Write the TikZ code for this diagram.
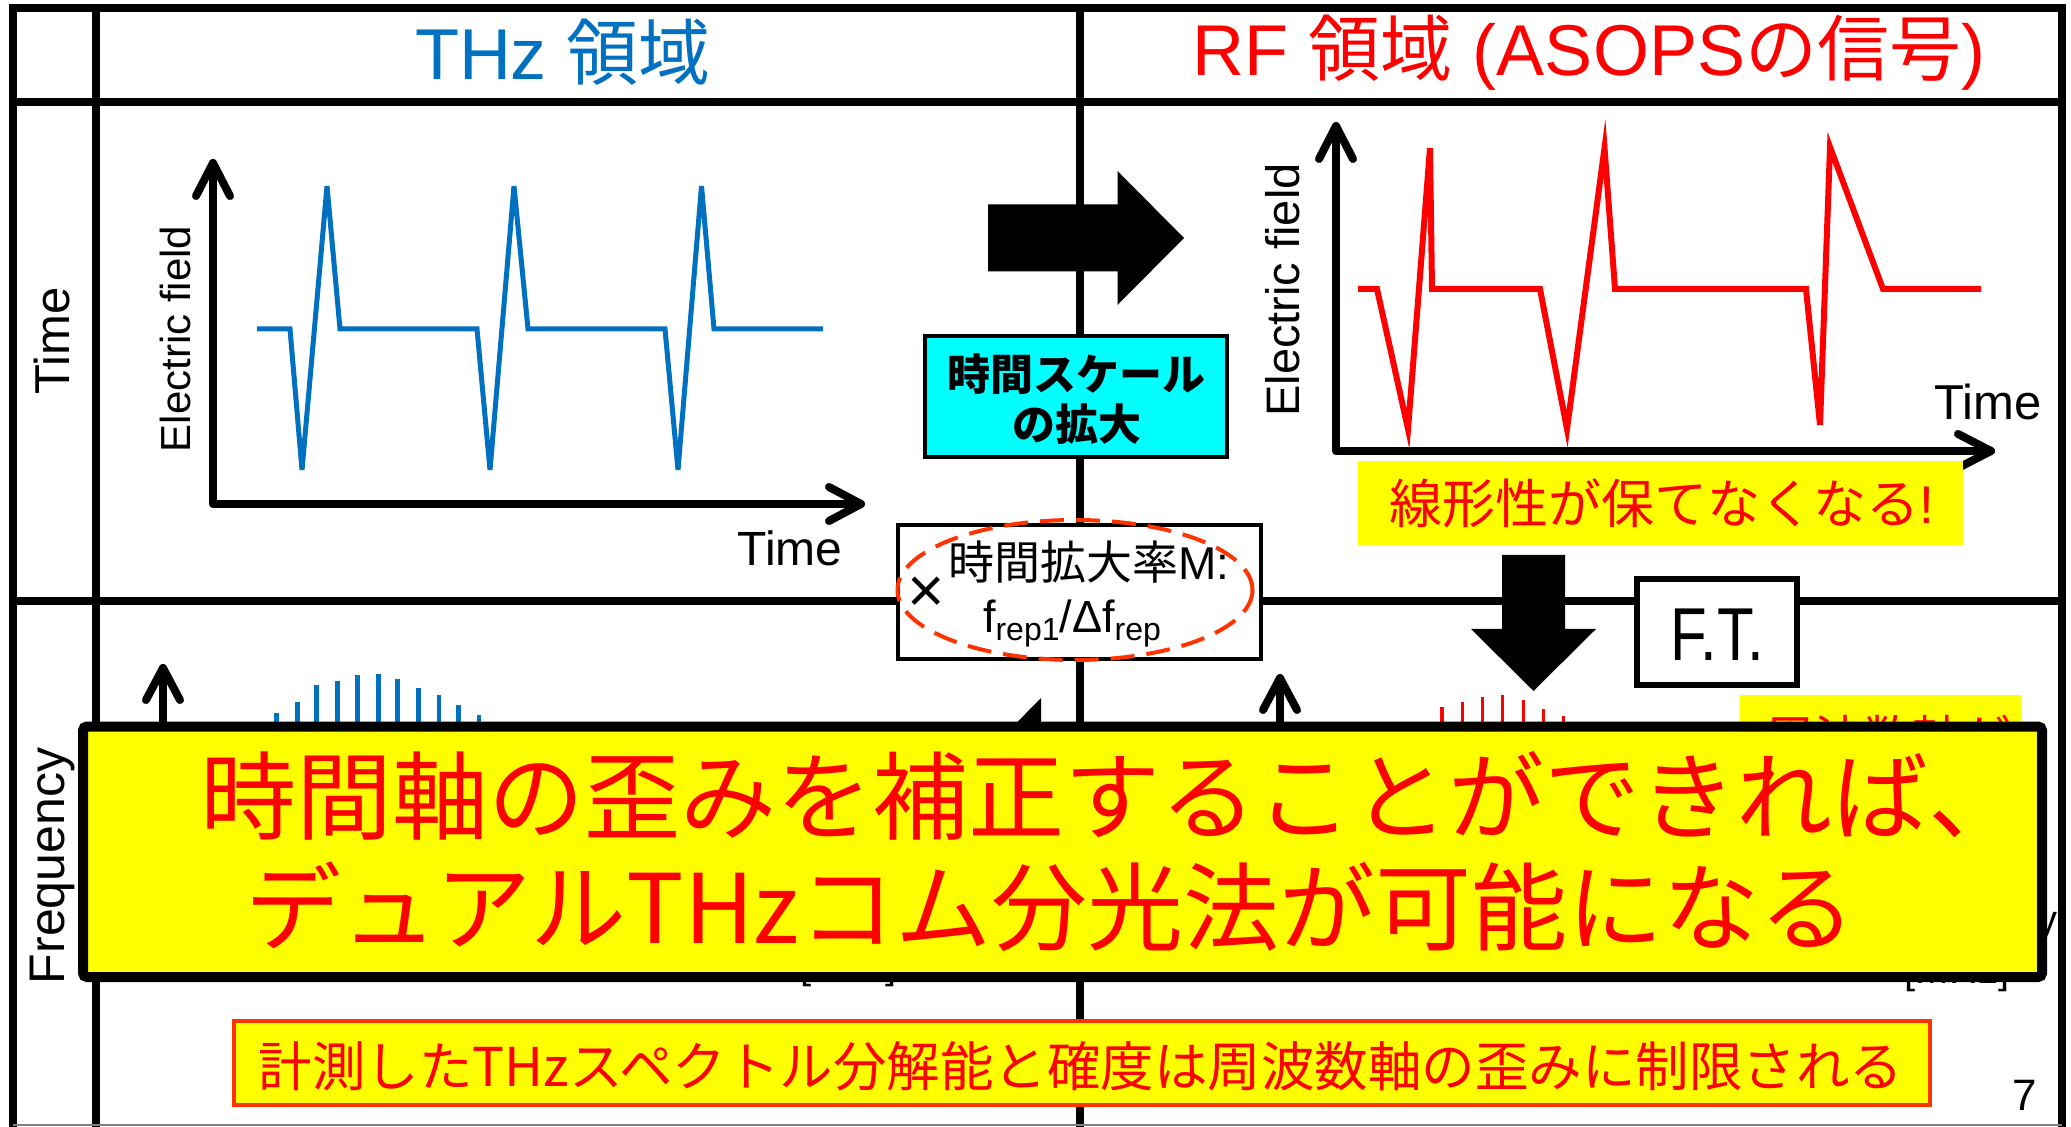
\documentclass[tikz,border=0pt]{standalone}
\usepackage{fontspec}
\setmainfont{Liberation Sans}
\newfontfamily\jp{Noto Sans CJK JP}
\newcommand{\fsz}[1]{\fontsize{#1}{#1}\selectfont}
\definecolor{thzblue}{HTML}{0070C0}
\definecolor{rfred}{HTML}{FF0000}
\definecolor{dashred}{HTML}{FF3300}
\definecolor{ylw}{HTML}{FFFF00}
\definecolor{cyn}{HTML}{00FFFF}
\tikzset{
  grid/.style={line width=3.75pt, line cap=rect},
  axisline/.style={line width=4pt, line cap=round, line join=round},
  blueline/.style={thzblue, line width=2.5pt},
  redline/.style={rfred, line width=3pt},
  frame/.style={draw, line width=2pt, inner sep=0pt},
  txt/.style={inner sep=0pt},
}
\begin{document}
\begin{tikzpicture}[x=0.5pt,y=-0.5pt]
\useasboundingbox (0,0) rectangle (2071,1127);
\fill[white] (0,0) rectangle (2071,1127);

% labels that sit behind the banner
\node[txt, font={\fsz{20pt}}, anchor=base] (thzunit) at (848.5,978) {[THz]};
\node[txt, font={\fsz{20pt}}, anchor=base] (mhzunit) at (1957,983) {[MHz]};
\node[txt, font={\fsz{20pt}}, anchor=base east] (rfreq) at (2058,933) {Frequency};

% table grid
\draw[grid] (13,8) -- (2062,8);
\draw[grid] (13,8) -- (13,1140);
\draw[grid] (2062,8) -- (2062,1140);
\draw[grid] (96,8) -- (96,1140);
\draw[grid] (1080,8) -- (1080,1140);
\draw[grid] (13,102) -- (2062,102);
\draw[grid] (13,601) -- (2062,601);
\draw[gray, line width=0.6pt] (13,1125) -- (2062,1125);

% headers
\node[txt, text=thzblue, font={\fsz{36pt}}] (hthz) at (563,52) {THz {\jp 領域}};
\node[txt, text=rfred, font={\fsz{36pt}}] (hrf) at (1589,53) {RF {\jp 領域} (ASOPS{\jp の信号})};

% row labels
\node[txt, rotate=90, font={\fsz{24.5pt}}] (ltime) at (52,341) {Time};
\node[txt, rotate=90, font={\fsz{25pt}}] (lfreq) at (52,866) {Frequency};

% left time graph
\draw[axisline] (213,163) -- (213,504) -- (861,504);
\draw[axisline] (196,196) -- (213,163) -- (230,196);
\draw[axisline] (829,487) -- (861,504) -- (829,521);
\node[txt, rotate=90, font={\fsz{21pt}}] (lef) at (175,339) {Electric field};
\node[txt, font={\fsz{24pt}}] (ltx) at (790,548) {Time};
\draw[blueline] (257,329) -- (290,329) -- (302,470) -- (327,186) -- (340,329) -- (477,329) -- (490,470) -- (514,186) -- (528,329) -- (665,329) -- (678,470) -- (701.5,186) -- (714,329) -- (823,329);

% right time graph
\draw[axisline] (1336,126) -- (1336,451) -- (1991,451);
\draw[axisline] (1319,159) -- (1336,126) -- (1353,159);
\draw[axisline] (1958,434) -- (1991,451) -- (1958,468);
\node[txt, rotate=90, font={\fsz{23.5pt}}] (ref) at (1283,290) {Electric field};
\node[txt, font={\fsz{24.5pt}}] (rtx) at (1988,402) {Time};
\draw[redline] (1358,289) -- (1377,289) -- (1408,429) -- (1430,148) -- (1432,289) -- (1540,289) -- (1567,429) -- (1604.5,148) -- (1615,289) -- (1806,289) -- (1820,425) -- (1830,147) -- (1883,289) -- (1981,289);

% yellow note
\node[txt, fill=ylw, minimum width=302.5pt, minimum height=42pt] (lin) at (1660.5,503) {};
\node[txt, text=rfred, font={\fsz{26.5pt}}] (lintxt) at (1662,503) {{\jp 線形性が保てなくなる}!};

% big right arrow
\fill (988,204.5) -- (1117.5,204.5) -- (1117.5,171) -- (1184,238) -- (1117.5,305) -- (1117.5,271.5) -- (988,271.5) -- cycle;

% time-scale box
\node[frame, fill=cyn, minimum width=151pt, minimum height=60.5pt] (tsbox) at (1076,396.5) {};
\node[txt, font={\jp\bfseries\fsz{21.5pt}}] (sc1) at (1076.5,374.5) {時間スケール};
\node[txt, font={\jp\bfseries\fsz{21.5pt}}] (sc2) at (1076.5,424.5) {の拡大};

% magnification box
\node[frame, fill=white, minimum width=181.5pt, minimum height=67pt] (mbox) at (1079.5,592) {};
\node[txt, font={\fsz{23pt}}] (mtxt) at (1089,562) {{\jp 時間拡大率}M:};
\node[txt, font={\fsz{32pt}}] (mcross) at (926,595) {×};
\node[txt, font={\fsz{22.5pt}}, anchor=base] (mfrac) at (1072,633) {f\raisebox{-4pt}{\fsz{16pt}rep1}/Δf\raisebox{-4pt}{\fsz{16pt}rep}};
\draw[dashred, line width=2pt, dash pattern=on 12pt off 6pt] (1075,590) ellipse [x radius=177.5, y radius=70];

% down arrow
\fill (1502,555) -- (1565,555) -- (1565,629) -- (1596,629) -- (1533.5,691) -- (1471,629) -- (1502,629) -- cycle;

% F.T. box
\node[draw, line width=3pt, fill=white, minimum width=80pt, minimum height=53pt, inner sep=0pt] (ftbox) at (1717,632) {};
\node[txt, font={\fsz{37.5pt}}] (fttxt) at (1717,635) {\scalebox{0.8}[1]{F.T.}};

% small yellow box (mostly hidden)
\node[txt, fill=ylw, minimum width=140.5pt, minimum height=55pt] (distbox) at (1880.5,750) {};
\node[txt, text=rfred, font={\jp\fsz{24.5pt}}] (disttxt) at (1888,738) {周波数軸が};

% spectra
\foreach \x/\t in {276.7/713, 297.3/702, 316.7/685, 337.3/681, 357.7/675, 378.3/674, 397.7/679, 418.3/688, 439/695, 458.3/705, 479/715}
  \draw[thzblue, line width=2.25pt] (\x,\t) -- (\x,745);
\foreach \x/\t in {1442/706.7, 1462.6/702.3, 1482.7/696.7, 1502.7/695, 1523.4/700, 1543.5/709, 1563.5/716}
  \draw[rfred, line width=1.75pt] (\x,\t) -- (\x,745);

% frequency axes
\draw[axisline] (163,668) -- (163,760);
\draw[axisline] (146,700) -- (163,668) -- (180,700);
\draw[axisline] (1280,678) -- (1280,760);
\draw[axisline] (1263,710) -- (1280,678) -- (1297,710);

% hidden left arrow
\fill (975,765) -- (1041,698) -- (1041,731.5) -- (1170,731.5) -- (1170,798.5) -- (1041,798.5) -- (1041,832) -- cycle;

% banner
\node[draw, line width=5pt, fill=ylw, rounded corners=2pt, minimum width=979.5pt, minimum height=125.25pt, inner sep=0pt] (banner) at (1062.5,851.75) {};
\node[txt, text=rfred, font={\jp\fsz{48pt}}] (bl1) at (1112,795.5) {時間軸の歪みを補正することができれば、};
\node[txt, text=rfred, font={\jp\fsz{48pt}}] (bl2) at (1050.5,906.5) {デュアルTHzコム分光法が可能になる};

% bottom box
\node[draw=dashred, line width=2pt, fill=ylw, minimum width=848.25pt, minimum height=42pt, inner sep=0pt] (limbox) at (1081.75,1063) {};
\node[txt, text=rfred, font={\jp\fsz{26.75pt}}] (limtxt) at (1081,1066) {計測したTHzスペクトル分解能と確度は周波数軸の歪みに制限される};

% page number
\node[txt, font={\fsz{22pt}}] (pg) at (2025,1095) {7};
\end{tikzpicture}
\end{document}
